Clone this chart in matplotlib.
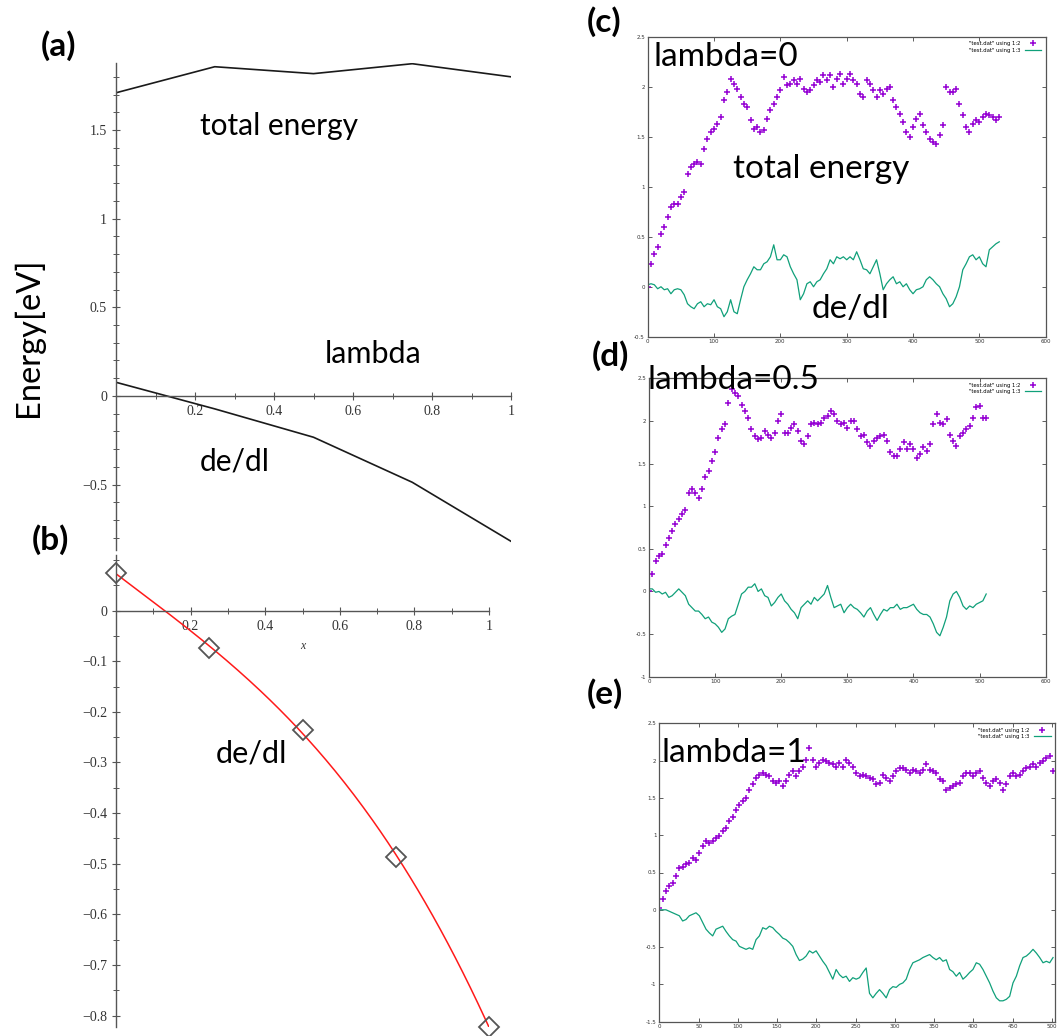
import numpy as np
import matplotlib
matplotlib.use("Agg")
import matplotlib.pyplot as plt
from matplotlib.ticker import MultipleLocator

# ---------------- data ----------------
lam = [0.0, 0.25, 0.5, 0.75, 1.0]
a_total_energy = [1.71, 1.857, 1.818, 1.874, 1.80]
a_dedl = [0.077, -0.073, -0.233, -0.487, -0.82]
b_dedl = [0.074, -0.074, -0.236, -0.486, -0.822]

# panel (c): lambda = 0, samples every 5 steps
c_total = [0.00, 0.23, 0.33, 0.40, 0.53, 0.60, 0.70, 0.80, 0.83, 0.83,
           0.90, 0.95, 1.13, 1.20, 1.23, 1.25, 1.23, 1.38, 1.48, 1.55,
           1.58, 1.63, 1.70, 1.87, 1.95, 2.08, 2.03, 1.98, 1.90, 1.83,
           1.80, 1.67, 1.58, 1.60, 1.55, 1.57, 1.68, 1.77, 1.83, 1.90,
           1.97, 2.10, 2.02, 2.03, 2.07, 2.03, 2.08, 1.98, 1.95, 1.97,
           2.02, 2.07, 2.05, 2.12, 2.07, 2.12, 2.00, 2.08, 2.13, 2.03,
           2.08, 2.13, 2.07, 2.03, 1.93, 1.90, 2.07, 2.03, 1.97, 1.90,
           1.97, 1.93, 1.98, 2.00, 1.87, 1.80, 1.73, 1.65, 1.55, 1.50,
           1.60, 1.68, 1.73, 1.62, 1.55, 1.48, 1.45, 1.43, 1.52, 1.62,
           2.00, 1.95, 1.95, 1.98, 1.83, 1.72, 1.60, 1.55, 1.63, 1.67,
           1.65, 1.70, 1.73, 1.72, 1.70, 1.67, 1.70]
c_dedl = [0.02, 0.03, 0.02, -0.02, 0.00, -0.03, -0.02, -0.07, -0.03, -0.02,
          -0.03, -0.08, -0.17, -0.20, -0.22, -0.17, -0.15, -0.20, -0.17, -0.18,
          -0.13, -0.20, -0.22, -0.30, -0.25, -0.13, -0.25, -0.27, -0.13, 0.00,
          0.07, 0.13, 0.20, 0.17, 0.17, 0.23, 0.25, 0.30, 0.42, 0.27,
          0.27, 0.32, 0.30, 0.20, 0.13, 0.07, -0.13, -0.07, 0.03, 0.05,
          0.00, 0.05, 0.07, 0.13, 0.18, 0.27, 0.23, 0.30, 0.28, 0.30,
          0.27, 0.30, 0.27, 0.35, 0.27, 0.18, 0.17, 0.13, 0.20, 0.27,
          0.13, -0.03, 0.03, 0.07, 0.10, 0.03, 0.05, 0.00, 0.03, -0.03,
          -0.07, -0.03, -0.02, 0.00, 0.07, 0.10, 0.07, 0.03, 0.00, -0.07,
          -0.12, -0.20, -0.17, -0.10, 0.00, 0.17, 0.23, 0.30, 0.32, 0.27,
          0.30, 0.23, 0.20, 0.37, 0.40, 0.43, 0.45]

# panel (d): lambda = 0.5, samples every 5 steps
d_total = [0.00, 0.20, 0.36, 0.42, 0.44, 0.55, 0.63, 0.71, 0.79, 0.85,
           0.91, 0.96, 1.16, 1.20, 1.16, 1.10, 1.20, 1.34, 1.41, 1.53,
           1.63, 1.80, 1.90, 1.96, 2.21, 2.37, 2.33, 2.29, 2.19, 2.12,
           2.04, 1.90, 1.82, 1.79, 1.80, 1.88, 1.84, 1.80, 1.86, 2.00,
           2.08, 1.86, 1.86, 1.92, 1.96, 1.88, 1.77, 1.73, 1.82, 1.96,
           1.98, 1.96, 1.98, 2.04, 2.06, 2.12, 2.08, 2.00, 1.96, 1.98,
           1.92, 2.00, 2.00, 1.90, 1.82, 1.84, 1.75, 1.71, 1.77, 1.80,
           1.82, 1.84, 1.77, 1.63, 1.59, 1.59, 1.67, 1.75, 1.67, 1.73,
           1.67, 1.57, 1.61, 1.69, 1.65, 1.73, 1.96, 2.08, 1.98, 1.96,
           2.02, 1.84, 1.77, 1.71, 1.82, 1.86, 1.90, 1.94, 2.04, 2.16,
           2.17, 2.04, 2.04]
d_dedl = [0.03, 0.03, -0.01, 0.00, -0.03, -0.01, -0.07, -0.05, -0.01, 0.03,
          -0.01, -0.05, -0.15, -0.19, -0.23, -0.23, -0.27, -0.32, -0.30, -0.36,
          -0.38, -0.42, -0.48, -0.44, -0.32, -0.29, -0.27, -0.15, -0.03, 0.00,
          0.05, 0.05, 0.09, 0.00, 0.03, -0.05, -0.07, -0.17, -0.13, -0.07,
          -0.03, -0.11, -0.15, -0.21, -0.25, -0.32, -0.19, -0.15, -0.11, -0.15,
          -0.07, -0.11, -0.07, -0.03, 0.07, -0.07, -0.19, -0.17, -0.15, -0.25,
          -0.19, -0.15, -0.19, -0.21, -0.25, -0.30, -0.23, -0.19, -0.27, -0.34,
          -0.27, -0.21, -0.23, -0.19, -0.19, -0.15, -0.21, -0.19, -0.19, -0.17,
          -0.15, -0.21, -0.25, -0.27, -0.27, -0.30, -0.38, -0.48, -0.52, -0.42,
          -0.30, -0.11, -0.03, 0.00, -0.07, -0.17, -0.21, -0.17, -0.19, -0.15,
          -0.13, -0.11, -0.03]

# panel (e): lambda = 1, samples every 4.25 steps
e_total = [0.03, 0.14, 0.25, 0.32, 0.36, 0.45, 0.56, 0.58, 0.61, 0.63,
           0.70, 0.67, 0.76, 0.85, 0.92, 0.90, 0.92, 0.96, 0.99, 1.05,
           1.10, 1.19, 1.25, 1.34, 1.41, 1.46, 1.50, 1.61, 1.68, 1.77,
           1.81, 1.83, 1.81, 1.79, 1.72, 1.70, 1.72, 1.66, 1.72, 1.81,
           1.86, 1.79, 1.86, 1.92, 2.01, 2.17, 2.01, 1.92, 1.97, 2.01,
           1.99, 1.97, 1.95, 1.92, 1.97, 1.92, 2.01, 1.97, 1.92,
           1.83, 1.79, 1.81, 1.79, 1.77, 1.75, 1.68, 1.70, 1.81, 1.77,
           1.72, 1.79, 1.86, 1.90, 1.90, 1.88, 1.83, 1.88, 1.86, 1.83,
           1.88, 1.95, 1.88, 1.86, 1.83, 1.75, 1.72, 1.61, 1.63, 1.66,
           1.68, 1.70, 1.79, 1.83, 1.83, 1.79, 1.83, 1.86, 1.77, 1.70,
           1.66, 1.72, 1.75, 1.70, 1.61, 1.68, 1.79, 1.83, 1.79, 1.81,
           1.86, 1.90, 1.92, 1.95, 1.92, 1.97, 1.99, 2.04, 2.06, 1.86]
e_dedl = [0.00, 0.00, 0.00, -0.02, -0.04, -0.06, -0.08, -0.15, -0.13, -0.08,
          -0.06, -0.04, -0.08, -0.17, -0.26, -0.31, -0.35, -0.26, -0.24, -0.22,
          -0.29, -0.35, -0.40, -0.42, -0.49, -0.51, -0.53, -0.51, -0.53, -0.40,
          -0.35, -0.24, -0.26, -0.22, -0.24, -0.29, -0.33, -0.38, -0.40, -0.44,
          -0.49, -0.60, -0.68, -0.66, -0.62, -0.55, -0.58, -0.55, -0.62, -0.69,
          -0.75, -0.84, -0.93, -0.80, -0.87, -0.91, -0.89, -0.96, -0.91,
          -0.93, -0.91, -0.84, -0.78, -1.12, -1.18, -1.12, -1.07, -1.12, -1.18,
          -1.07, -1.03, -1.04, -1.00, -0.98, -0.93, -0.80, -0.71, -0.69, -0.67,
          -0.64, -0.62, -0.60, -0.64, -0.67, -0.64, -0.69, -0.67, -0.80, -0.83,
          -0.89, -0.84, -0.93, -0.89, -0.84, -0.80, -0.71, -0.73, -0.80, -0.89,
          -0.98, -1.09, -1.18, -1.22, -1.22, -1.20, -1.16, -0.98, -0.89, -0.75,
          -0.64, -0.62, -0.58, -0.53, -0.58, -0.64, -0.71, -0.69, -0.71, -0.64]

c_step, d_step, e_step = 5.0, 5.0, 4.25

# ---------------- figure ----------------
W, H = 1058, 1036
fig = plt.figure(figsize=(W / 100, H / 100), dpi=100)
fig.patch.set_facecolor("white")


def rect(l, t, r, b):
    return [l / W, 1 - b / H, (r - l) / W, (b - t) / H]


BIG = "Lato"
SERIF = "Liberation Serif"
PURPLE = "#9400d3"
GREEN = "#10a07a"
AXC = "#555555"


def maple_axes(ax):
    for s in ["top", "right"]:
        ax.spines[s].set_visible(False)
    ax.spines["left"].set_position(("data", 0))
    ax.spines["bottom"].set_position(("data", 0))
    for s in ["left", "bottom"]:
        ax.spines[s].set_color(AXC)
        ax.spines[s].set_linewidth(1.0)
    ax.tick_params(which="major", direction="inout", length=6, width=0.8,
                   color=AXC, labelsize=10, labelcolor="#333333")
    ax.tick_params(which="minor", direction="inout", length=4, width=0.7, color=AXC)
    for lab in ax.get_xticklabels() + ax.get_yticklabels():
        lab.set_fontfamily(SERIF)
    ax.patch.set_alpha(0)


# ---- panel (a)
axa = fig.add_axes(rect(116, 63, 511, 550))
axa.plot(lam, a_total_energy, color="#1a1a1a", lw=1.2)
axa.plot(lam, a_dedl, color="#1a1a1a", lw=1.2)
axa.set_xlim(0, 1)
axa.set_ylim(-0.869, 1.878)
axa.set_yticks([-0.5, 0, 0.5, 1, 1.5], ["\u22120.5", "0", "0.5", "1", "1.5"])
axa.set_xticks([0.2, 0.4, 0.6, 0.8, 1.0], ["0.2", "0.4", "0.6", "0.8", "1"])
axa.yaxis.set_minor_locator(MultipleLocator(0.1))
axa.xaxis.set_minor_locator(MultipleLocator(0.1))
maple_axes(axa)

# ---- panel (b)
axb = fig.add_axes(rect(116, 555, 489, 1027))
coef = np.polyfit(lam, b_dedl, 3)
xf = np.linspace(0, 1, 200)
axb.plot(xf, np.polyval(coef, xf), color="#ff1a1a", lw=1.1)
axb.plot(lam, b_dedl, ls="none", marker="D", ms=10, mfc="none", mec="#555555",
         mew=1.3, clip_on=False, zorder=5)
axb.set_xlim(0, 1)
axb.set_ylim(-0.8227, 0.110)
yt = [0, -0.1, -0.2, -0.3, -0.4, -0.5, -0.6, -0.7, -0.8]
axb.set_yticks(yt, ["0"] + ["\u2212%.1f" % abs(v) for v in yt[1:]])
axb.set_xticks([0.2, 0.4, 0.6, 0.8, 1.0], ["0.2", "0.4", "0.6", "0.8", "1"])
axb.yaxis.set_minor_locator(MultipleLocator(0.05))
axb.xaxis.set_minor_locator(MultipleLocator(0.1))
maple_axes(axb)
fig.text(303 / W, 1 - 646 / H, "x", fontsize=8.5, fontstyle="italic",
         family=SERIF, ha="center", va="center", color="#333333")


# ---- gnuplot panels
def gp_panel(box, xlim, ylim, xt, yt, step, ytot, yde):
    ax = fig.add_axes(rect(*box))
    xs_t = step * np.arange(len(ytot))
    xs_d = step * np.arange(len(yde))
    ax.plot(xs_t, ytot, ls="none", marker="+", ms=4.8, mew=1.1, color=PURPLE,
            label='"test.dat" using 1:2')
    ax.plot(xs_d, yde, color=GREEN, lw=0.9, label='"test.dat" using 1:3')
    ax.set_xlim(*xlim)
    ax.set_ylim(*ylim)
    ax.set_xticks(xt, ["%g" % v for v in xt])
    ax.set_yticks(yt, ["%g" % v for v in yt])
    ax.tick_params(direction="in", length=3, width=0.6, labelsize=4,
                   top=True, right=True, pad=2, color="#444444",
                   labelcolor="#333333")
    for s in ax.spines.values():
        s.set_color("#555555")
        s.set_linewidth(0.9)
    ax.legend(loc="upper right", fontsize=3.8, frameon=False, markerfirst=False,
              handlelength=3.2, borderaxespad=0.4, labelspacing=0.25,
              handletextpad=0.8)
    return ax


gp_panel((647.7, 37, 1045.7, 336.7), (0, 600), (-0.5, 2.5),
         list(range(0, 601, 100)), [-0.5, 0, 0.5, 1, 1.5, 2, 2.5],
         c_step, c_total, c_dedl)
gp_panel((649, 378.3, 1045.7, 676.7), (0, 600), (-1, 2.5),
         list(range(0, 601, 100)), [-1, -0.5, 0, 0.5, 1, 1.5, 2, 2.5],
         d_step, d_total, d_dedl)
gp_panel((659.3, 723.3, 1055, 1021.7), (0, 504), (-1.5, 2.5),
         list(range(0, 501, 50)), [-1.5, -1, -0.5, 0, 0.5, 1, 1.5, 2, 2.5],
         e_step, e_total, e_dedl)


# ---- texts
def txt(x, y, s, size, **kw):
    fig.text(x / W, 1 - y / H, s, fontsize=size, family=BIG, color="black", **kw)


# panel letters
txt(59, 46, "(a)", 24, weight="bold", ha="center", va="center")
txt(50, 540, "(b)", 24, weight="bold", ha="center", va="center")
txt(604, 22, "(c)", 24, weight="bold", ha="center", va="center")
txt(610, 356, "(d)", 24, weight="bold", ha="center", va="center")
txt(605, 694, "(e)", 24, weight="bold", ha="center", va="center")

# y label
txt(28, 337, "Energy[eV]", 23.5, rotation=90, ha="center", va="center")

# annotations
txt(200, 135, "total energy", 21.5, ha="left", va="baseline")
txt(325, 363, "lambda", 22, ha="left", va="baseline")
txt(200, 470, "de/dl", 21.5, ha="left", va="baseline")
txt(216, 762, "de/dl", 22, ha="left", va="baseline")
txt(653, 66, "lambda=0", 24, ha="left", va="baseline")
txt(733, 178, "total energy", 24, ha="left", va="baseline")
txt(812, 318, "de/dl", 24, ha="left", va="baseline")
txt(647, 389, "lambda=0.5", 24, ha="left", va="baseline")
txt(662, 762, "lambda=1", 24, ha="left", va="baseline")

fig.savefig("out.png", dpi=100, facecolor="white")
